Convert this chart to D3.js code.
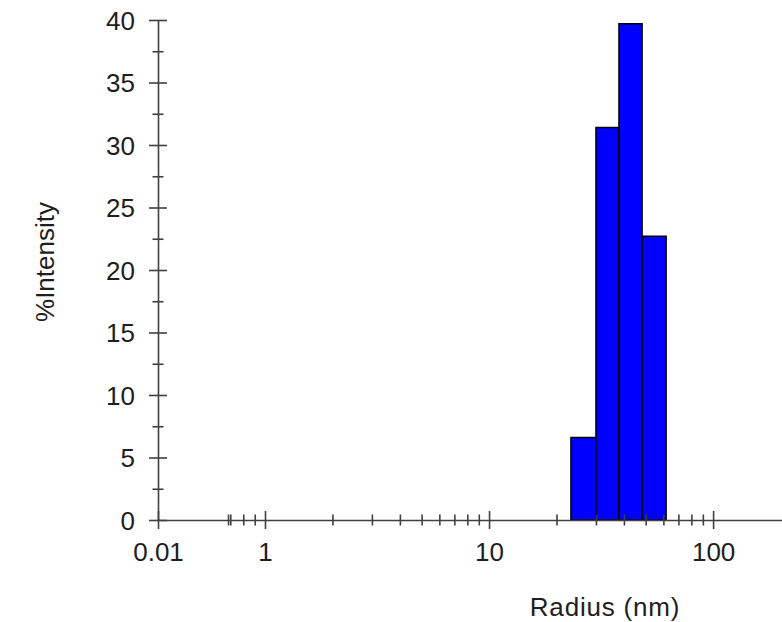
<!DOCTYPE html>
<html>
<head>
<meta charset="utf-8">
<script src="https://cdn.jsdelivr.net/npm/d3@7.9.0/dist/d3.min.js"></script>
<style>
  body { margin: 0; background: #fff; }
  svg text { font-family: "Liberation Sans", Arial, sans-serif; fill: #1e1e1e; }
</style>
</head>
<body>
<svg id="chart" width="782" height="622"></svg>
<script>
// histogram bins (radius, nm) and % intensity
const binEdges = [23.2, 30.0, 38.0, 48.2, 61.7];
const intensity = [6.6, 31.4, 39.7, 22.7];

// axis extents and ticks
const radiusExtent = [0.333, 203];
const majorTicks = [0.333, 1, 10, 100];
const majorLabels = ['0.01', '1', '10', '100'];
const minorTicks = [0.684, 0.7, 0.8, 0.9, 2, 3, 4, 5, 6, 7, 8, 9, 20, 30, 40, 50, 60, 70, 80, 90];
const yTicks = d3.range(0, 40.01, 2.5);

const svg = d3.select('#chart');
const plotLeft = 158, plotRight = 782, plotTop = 20, plotBottom = 520;

const x = d3.scaleLog().domain(radiusExtent).range([plotLeft, plotRight]);
const y = d3.scaleLinear().domain([0, 40]).range([plotBottom, plotTop]);

const bins = intensity.map((v, i) => ({ x0: binEdges[i], x1: binEdges[i + 1], value: v }));

// bars
svg.append('g')
  .selectAll('rect')
  .data(bins)
  .join('rect')
  .attr('x', d => x(d.x0))
  .attr('width', d => x(d.x1) - x(d.x0))
  .attr('y', d => y(d.value))
  .attr('height', d => y(0) - y(d.value))
  .attr('fill', '#0000ff')
  .attr('stroke', '#000')
  .attr('stroke-width', 1.5);

const axisColor = '#404040';
const isMajor = v => majorTicks.includes(v);

// x axis
const xAxis = d3.axisBottom(x)
  .tickValues(majorTicks.concat(minorTicks))
  .tickSizeOuter(0)
  .tickPadding(0)
  .tickFormat(d => {
    const i = majorTicks.indexOf(d);
    return i >= 0 ? majorLabels[i] : '';
  });

const gx = svg.append('g')
  .attr('transform', `translate(0,${plotBottom})`)
  .call(xAxis);
gx.select('.domain').attr('stroke', axisColor).attr('stroke-width', 1.6);
gx.selectAll('.tick line')
  .attr('stroke', axisColor)
  .attr('stroke-width', 1.6)
  .attr('y1', d => isMajor(d) ? -9 : -5.5)
  .attr('y2', d => isMajor(d) ? 9 : 5.5);
gx.selectAll('.tick text')
  .attr('y', 41)
  .attr('dy', 0)
  .style('font-size', '26px');

// y axis
const yAxis = d3.axisLeft(y)
  .tickValues(yTicks)
  .tickSizeOuter(0)
  .tickPadding(0)
  .tickFormat(d => d % 5 === 0 ? d : '');

const gy = svg.append('g')
  .attr('transform', `translate(${plotLeft},0)`)
  .call(yAxis);
gy.select('.domain').attr('stroke', axisColor).attr('stroke-width', 1.6);
gy.selectAll('.tick line')
  .attr('stroke', axisColor)
  .attr('stroke-width', 1.6)
  .attr('x1', d => d % 5 === 0 ? -9 : -5.5)
  .attr('x2', d => d % 5 === 0 ? 9 : 5.5);
gy.selectAll('.tick text')
  .attr('x', -23)
  .attr('dy', '0.35em')
  .style('font-size', '26px');

// axis titles
svg.append('text')
  .attr('x', 605)
  .attr('y', 616)
  .attr('text-anchor', 'middle')
  .style('font-size', '26px')
  .style('letter-spacing', '0.8px')
  .text('Radius (nm)');

svg.append('text')
  .attr('transform', 'translate(54,262) rotate(-90)')
  .attr('text-anchor', 'middle')
  .style('font-size', '26px')
  .text('%Intensity');
</script>
</body>
</html>
